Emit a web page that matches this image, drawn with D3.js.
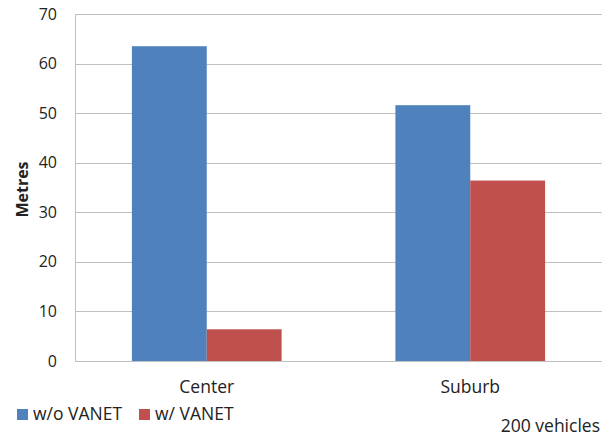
<!DOCTYPE html>
<html>
<head>
<meta charset="utf-8">
<script src="https://cdn.jsdelivr.net/npm/d3@7"></script>
<style>
  body { margin: 0; background: #fff; }
  text { font-family: "Open Sans", sans-serif; fill: #222; }
</style>
</head>
<body>
<div class="board"></div>
<script>
var categories = ['Center', 'Suburb'];
var seriesNames = ['w/o VANET', 'w/ VANET'];
var withoutVanet = [63.5, 51.6];
var withVanet = [6.4, 36.4];
var yTicks = [0, 10, 20, 30, 40, 50, 60, 70];
var colors = ['#4f81bd', '#c0504d'];

var width = 603, height = 436;
var margin = { top: 14, right: 1, bottom: 75, left: 75 };

var svg = d3.select('.board').append('svg')
  .attr('width', width)
  .attr('height', height);

var x0 = d3.scaleBand()
  .domain(categories)
  .range([margin.left, width - margin.right]);

var x1 = d3.scaleBand()
  .domain(seriesNames)
  .range([0, x0.bandwidth()])
  .paddingOuter(0.76);

var y = d3.scaleLinear()
  .domain([0, 70])
  .range([height - margin.bottom, margin.top]);

// grid lines
svg.append('g')
  .selectAll('line')
  .data(yTicks)
  .enter()
  .append('line')
  .attr('x1', margin.left)
  .attr('x2', width - margin.right)
  .attr('y1', function(d) { return Math.round(y(d)) + 0.5; })
  .attr('y2', function(d) { return Math.round(y(d)) + 0.5; })
  .style('stroke', '#c0c0c0')
  .style('stroke-width', 1);

// y axis line
svg.append('line')
  .attr('x1', margin.left + 0.5)
  .attr('x2', margin.left + 0.5)
  .attr('y1', y(70))
  .attr('y2', y(0))
  .style('stroke', '#c0c0c0');

var rows = categories.map(function(c, i) {
  return [{ cat: c, s: seriesNames[0], v: withoutVanet[i], col: colors[0] },
          { cat: c, s: seriesNames[1], v: withVanet[i], col: colors[1] }];
});

svg.append('g')
  .selectAll('rect')
  .data(d3.merge(rows))
  .enter()
  .append('rect')
  .attr('x', function(d) { return x0(d.cat) + x1(d.s); })
  .attr('width', x1.bandwidth())
  .attr('y', function(d) { return y(d.v); })
  .attr('height', function(d) { return y(0) - y(d.v); })
  .style('fill', function(d) { return d.col; });

// y tick labels
svg.append('g')
  .selectAll('text')
  .data(yTicks)
  .enter()
  .append('text')
  .attr('x', 57)
  .attr('y', function(d) { return y(d) + 5.5; })
  .attr('text-anchor', 'end')
  .style('font-size', '16px')
  .text(function(d) { return d; });

// category labels
svg.append('g')
  .selectAll('text')
  .data(categories)
  .enter()
  .append('text')
  .attr('x', function(d) { return x0(d) + x0.bandwidth() / 2; })
  .attr('y', 393)
  .attr('text-anchor', 'middle')
  .style('font-size', '17.5px')
  .text(function(d) { return d; });

// y axis title
svg.append('text')
  .attr('transform', 'translate(28,' + (y(35) + 2) + ') rotate(-90)')
  .attr('text-anchor', 'middle')
  .style('font-size', '16px')
  .style('font-weight', 'bold')
  .text('Metres');

// legend
var legendX = [17, 139];
var legend = svg.append('g')
  .selectAll('g')
  .data(seriesNames)
  .enter()
  .append('g')
  .attr('transform', function(d, i) { return 'translate(' + legendX[i] + ',409)'; });

legend.append('rect')
  .attr('width', 11)
  .attr('height', 11)
  .style('fill', function(d, i) { return colors[i]; });

legend.append('text')
  .attr('x', 16)
  .attr('y', 11)
  .style('font-size', '17.5px')
  .text(function(d) { return d; });

svg.append('text')
  .attr('x', 600)
  .attr('y', 432)
  .attr('text-anchor', 'end')
  .style('font-size', '17.5px')
  .text('200 vehicles');
</script>
</body>
</html>
